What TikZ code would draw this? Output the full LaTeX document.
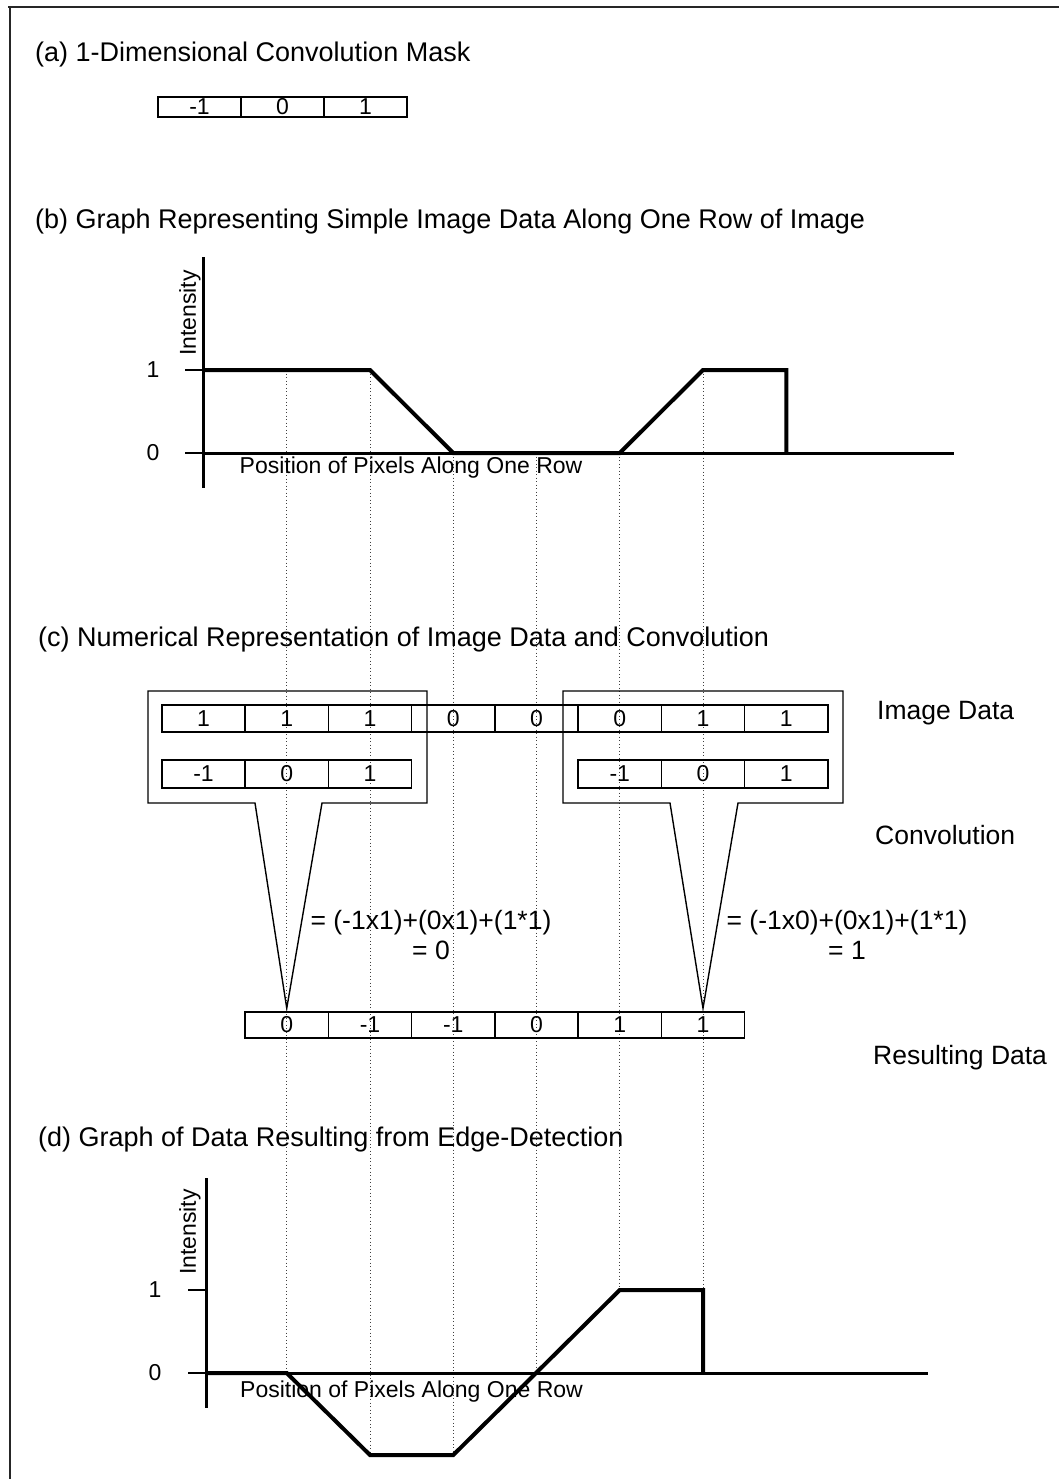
\documentclass[tikz,border=0pt]{standalone}
\usepackage{fontspec}
\setmainfont{Liberation Sans}
\usetikzlibrary{calc}
\begin{document}
\begin{tikzpicture}[x=1pt,y=-1pt,
  frameline/.style={line width=1.5pt,black!85},
  cell/.style={draw,line width=1.5pt,minimum width=83.25pt,minimum height=27pt,
    inner sep=0pt,font=\fontsize{23}{25}\selectfont},
  maskcell/.style={cell,minimum width=83pt,minimum height=20pt},
  callout/.style={line width=1.4pt,line join=miter},
  curve/.style={line width=4pt,line join=miter},
  axisline/.style={line width=3pt},
  tickline/.style={line width=1.2pt},
  guide/.style={line width=0.9pt,dash pattern=on 1pt off 2.5pt,black!75},
  title/.style={anchor=west,inner sep=0pt,font=\fontsize{27}{31}\selectfont},
  lab/.style={inner sep=0pt,font=\fontsize{26.5}{30}\selectfont},
  small/.style={inner sep=0pt,font=\fontsize{23}{25}\selectfont}]
\useasboundingbox (0,0) rectangle (1059,1479);

% page frame (top and left edges only)
\draw[frameline] (8,7) -- (1059,7);
\draw[frameline] (10,7) -- (10,1479);

% ---------- guide lines joining the two graphs ----------
\coordinate (gb1) at (286.75,370);  \coordinate (gd1) at (286.75,1373);
\coordinate (gb2) at (370,370);     \coordinate (gd2) at (370,1455);
\coordinate (gb3) at (453.25,453);  \coordinate (gd3) at (453.25,1455);
\coordinate (gb4) at (536.5,453);   \coordinate (gd4) at (536.5,1373);
\coordinate (gb5) at (619.75,453);  \coordinate (gd5) at (619.75,1290);
\coordinate (gb6) at (703,370);     \coordinate (gd6) at (703,1290);
\foreach \k in {1,...,6} \draw[guide] (gb\k) -- (gd\k);

% ---------- (a) mask ----------
\node[title] (ta) at (35,55) {(a) 1-Dimensional Convolution Mask};
\foreach \val [count=\i from 0] in {-1,0,1}
  \node[maskcell] (ma\i) at (199.5+83*\i,107) {\val};

% ---------- (b) input graph ----------
\node[title] (tb) at (35,222) {(b) Graph Representing Simple Image Data Along One Row of Image};
\draw[axisline] (203.5,257) -- (203.5,488);
\draw[axisline] (203.5,453) -- (954,453);
\draw[tickline] (185,370) -- (203.5,370);
\draw[tickline] (185,453) -- (203.5,453);
\node[small] (b1) at (153,370) {1};
\node[small] (b0) at (153,453) {0};
\node[small,rotate=90] (bint) at (190,313) {Intensity};
\node[small] (bpos) at (411,468) {Position of Pixels Along One Row};
\draw[curve] (203.5,370) -- (gb2) -- (gb3) -- (gb5) -- (gb6) -- (786.25,370) -- (786.25,453);

% ---------- (c) numerical convolution ----------
\node[title] (tc) at (38,640) {(c) Numerical Representation of Image Data and Convolution};
\foreach \val [count=\i from 0] in {1,1,1,0,0,0,1,1}
  \node[cell] (img\i) at (203.5+83.25*\i,718.5) {\val};
\foreach \val [count=\i from 0] in {-1,0,1}
  \node[cell,minimum height=28pt] (mL\i) at (203.5+83.25*\i,774) {\val};
\foreach \val [count=\i from 0] in {-1,0,1}
  \node[cell,minimum height=28pt] (mR\i) at (619.75+83.25*\i,774) {\val};
\foreach \val [count=\i from 1] in {0,-1,-1,0,1,1}
  \node[cell,minimum height=26pt] (res\i) at (203.5+83.25*\i,1025) {\val};

\coordinate (apexL) at ($(res1.north)+(0,-3)$);
\coordinate (apexR) at ($(res6.north)+(0,-3)$);
\draw[callout] (255,803) -- (148,803) -- (148,691) -- (427,691) -- (427,803)
  -- (322,803) -- (apexL) -- cycle;
\draw[callout] (670,803) -- (563,803) -- (563,691) -- (843,691) -- (843,803)
  -- (738,803) -- (apexR) -- cycle;

\node[lab,align=center] (eqL) at (431,935) {= (-1x1)+(0x1)+(1*1)\\= 0};
\node[lab,align=center] (eqR) at (847,935) {= (-1x0)+(0x1)+(1*1)\\= 1};

\node[lab,anchor=west] (limg) at (877,713) {Image Data};
\node[lab,anchor=west] (lconv) at (875,835) {Convolution};
\node[lab,anchor=west] (lres) at (873,1058) {Resulting Data};

% ---------- (d) edge-detection result ----------
\node[title] (td) at (38,1140) {(d) Graph of Data Resulting from Edge-Detection};
\draw[axisline] (206,1178) -- (206,1408);
\draw[axisline] (206,1373) -- (928,1373);
\draw[tickline] (188,1290) -- (206,1290);
\draw[tickline] (188,1373) -- (206,1373);
\node[small] (d1) at (155,1290) {1};
\node[small] (d0) at (155,1373) {0};
\node[small,rotate=90] (dint) at (190,1232) {Intensity};
\node[small] (dpos) at (411.5,1392) {Position of Pixels Along One Row};
\draw[curve] (206,1373) -- (gd1) -- (gd2) -- (gd3) -- (gd5) -- (gd6) -- (703,1373);
\end{tikzpicture}
\end{document}
